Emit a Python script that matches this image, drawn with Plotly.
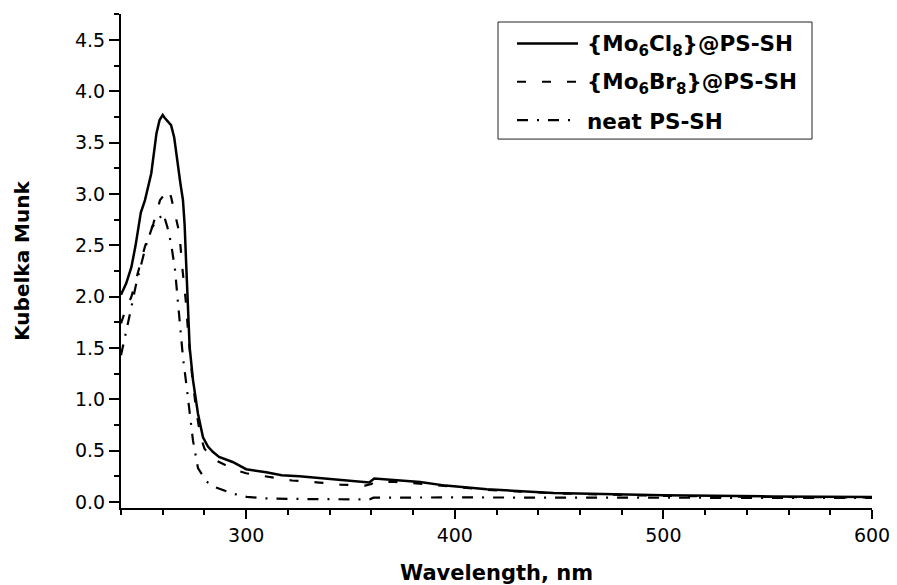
import plotly.graph_objects as go

# ---- data ----
cl_x = [240, 242.5, 245, 247, 249.5, 251.5, 254.5, 257, 258.5, 260, 261, 262.5, 264, 265.5,
        267.3, 268.5, 269.7, 270.5, 271.3, 272.1, 272.9, 274.5, 276.9, 279.3, 281.7, 284,
        287, 293.5, 300, 309.6, 317, 325.5, 341.4, 350, 357.4, 359, 361.4, 373.3, 383.4,
        395.6, 415.4, 447.3, 479.3, 500, 550, 600]
cl_y = [2.02, 2.13, 2.29, 2.5, 2.82, 2.94, 3.2, 3.59, 3.72, 3.77, 3.74, 3.71, 3.67, 3.55,
        3.26, 3.1, 2.94, 2.7, 2.29, 1.97, 1.51, 1.19, 0.86, 0.63, 0.54, 0.49,
        0.44, 0.39, 0.32, 0.29, 0.26, 0.25, 0.22, 0.21, 0.195, 0.19, 0.23, 0.21, 0.195,
        0.16, 0.124, 0.088, 0.075, 0.065, 0.055, 0.05]

br_x = [240, 242, 245, 247.5, 251.5, 255.5, 258.7, 261, 262.7, 264, 266, 268, 269.3, 271,
        272, 274, 276, 278, 280, 284, 289, 295, 300, 310, 322, 335, 345, 357, 360, 362,
        371, 383, 395, 415, 447, 480, 500, 550, 600]
br_y = [1.74, 1.86, 2.0, 2.19, 2.49, 2.71, 2.94, 3.0, 3.05, 2.97, 2.8, 2.62, 2.3, 1.97,
        1.7, 1.25, 0.9, 0.65, 0.52, 0.42, 0.37, 0.31, 0.28, 0.25, 0.21, 0.19, 0.17, 0.16, 0.175, 0.2,
        0.195, 0.18, 0.16, 0.12, 0.085, 0.07, 0.06, 0.05, 0.045]

ps_x = [240, 243, 245, 247, 250, 252, 255, 258, 260.3, 262.2, 264, 265.9, 266.7, 267.3,
        268.1, 269.7, 271.3, 272.9, 274.5, 276.9, 279.5, 281, 284.5, 289, 293.7, 300.3,
        310, 325, 345, 355, 359, 361, 370, 400, 450, 500, 600]
ps_y = [1.43, 1.7, 1.9, 2.1, 2.35, 2.5, 2.68, 2.76, 2.81, 2.68, 2.52, 2.26, 2.08, 1.97,
        1.71, 1.41, 1.15, 0.86, 0.6, 0.33, 0.24, 0.2, 0.15, 0.12, 0.082, 0.05,
        0.035, 0.03, 0.027, 0.02, 0.025, 0.043, 0.045, 0.045, 0.043, 0.042, 0.04]

series_names = ["{Mo<sub>6</sub>Cl<sub>8</sub>}@PS-SH",
                "{Mo<sub>6</sub>Br<sub>8</sub>}@PS-SH",
                "neat PS-SH"]
x_ticks = [300, 400, 500, 600]
y_ticks = [0.0, 0.5, 1.0, 1.5, 2.0, 2.5, 3.0, 3.5, 4.0, 4.5]

FONT = "DejaVu Sans"
W, H = 897, 585
L, R, T, B = 121, 25, 14, 77.3
PW, PH = W - L - R, H - T - B

dashes = ["solid", "9px,16px", "11px,9px,2px,9px"]
widths = [2.5, 2.2, 2.2]

fig = go.Figure()
for xs, ys, nm, d, w in zip([cl_x, br_x, ps_x], [cl_y, br_y, ps_y], series_names, dashes, widths):
    fig.add_trace(go.Scatter(x=xs, y=ys, mode="lines", name=nm, showlegend=False,
                             line=dict(color="black", width=w, dash=d)))

def fx(px):
    return (px - L) / PW

def fy(py):
    return (H - B - py) / PH

# custom legend box
fig.add_shape(type="rect", xref="paper", yref="paper",
              x0=fx(498), x1=fx(812), y0=fy(139), y1=fy(22),
              line=dict(color="#222", width=1), fillcolor="white", layer="above")
rows = [43.5, 81.7, 120]
for nm, d, w, ry in zip(series_names, dashes, widths, rows):
    fig.add_shape(type="line", xref="paper", yref="paper",
                  x0=fx(517), x1=fx(578), y0=fy(ry), y1=fy(ry),
                  line=dict(color="black", width=w, dash=d), layer="above")
    fig.add_annotation(xref="paper", yref="paper", x=fx(585), y=fy(ry + 1.5),
                       xanchor="left", yanchor="middle", showarrow=False,
                       text="<b>" + nm + "</b>", font=dict(family=FONT, size=21.5, color="black"))

fig.update_layout(
    width=W, height=H,
    margin=dict(l=L, r=R, t=T, b=B, pad=0),
    paper_bgcolor="white", plot_bgcolor="white",
    font=dict(family=FONT, color="black"),
    xaxis=dict(range=[240, 600], tickvals=x_ticks, ticks="outside", ticklen=9, tickwidth=2,
               tickcolor="black", showline=True, linecolor="black", linewidth=2,
               showgrid=False, zeroline=False, tickfont=dict(size=19), automargin=False,
               minor=dict(dtick=20, tick0=240, ticks="outside", ticklen=5, tickwidth=2, tickcolor="black"),
               title=dict(text="<b>Wavelength, nm</b>", font=dict(size=21), standoff=23)),
    yaxis=dict(range=[-0.058, 4.753], tickvals=y_ticks, tickformat=".1f", ticks="outside",
               ticklen=10, tickwidth=2, tickcolor="black", showline=True, linecolor="black",
               linewidth=2, showgrid=False, zeroline=False, tickfont=dict(size=19), automargin=False,
               minor=dict(dtick=0.25, tick0=0, ticks="outside", ticklen=5, tickwidth=2, tickcolor="black"),
               title=dict(text="<b>Kubelka Munk</b>", font=dict(size=20), standoff=40)),
)

fig.write_html("out.html", config={"displayModeBar": False},
               post_script="document.body.style.margin='0';document.body.style.padding='0';")
